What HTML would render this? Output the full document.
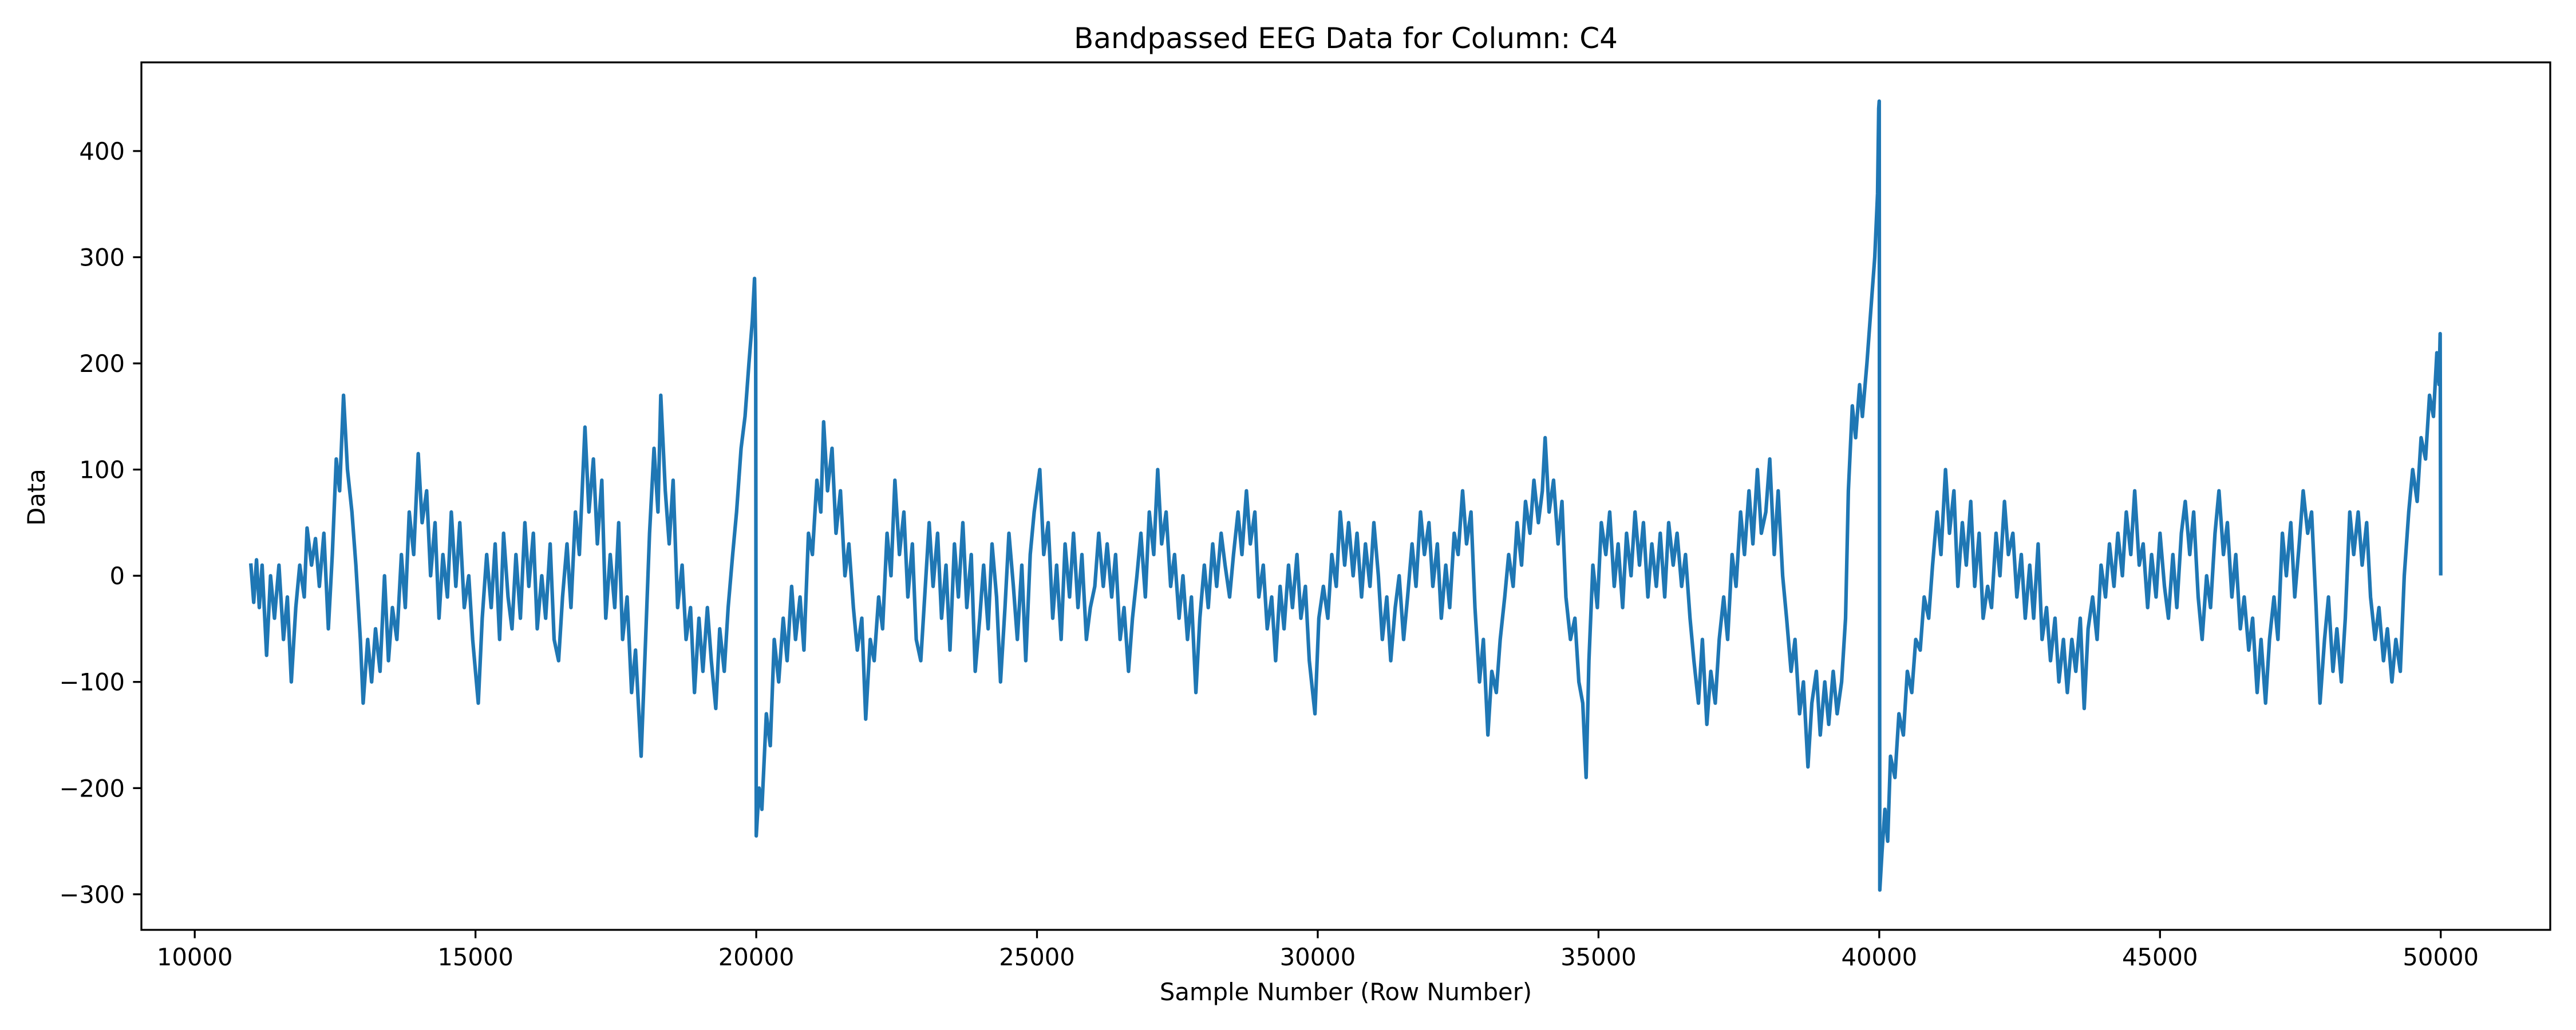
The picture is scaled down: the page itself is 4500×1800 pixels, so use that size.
<!DOCTYPE html>
<html>
<head>
<meta charset="utf-8">
<style>
html,body{margin:0;padding:0;background:#fff;}
svg{display:block;}
text{font-family:"DejaVu Sans","Liberation Sans",sans-serif;fill:#000;}
</style>
</head>
<body>
<svg id="chart" width="4500" height="1800" viewBox="0 0 4500 1800" xmlns="http://www.w3.org/2000/svg">
  <rect x="0" y="0" width="4500" height="1800" fill="#fff"/>
  <text x="2351" y="84" font-size="50" text-anchor="middle">Bandpassed EEG Data for Column: C4</text>
  <text x="2351" y="1748" font-size="41.7" text-anchor="middle">Sample Number (Row Number)</text>
  <text x="0" y="0" font-size="41.7" text-anchor="middle" transform="translate(78,869) rotate(-90)">Data</text>
  <g id="plot"></g>
  <g id="xticks"></g>
  <g id="yticks"></g>
  <rect x="247" y="109" width="4208" height="1516" fill="none" stroke="#000" stroke-width="3.3"/>
</svg>
<script>
const samples = [11000,11050,11100,11150,11200,11280,11350,11420,11500,11580,11650,11720,11800,11870,11950,12000,12080,12150,12220,12300,12380,12450,12520,12580,12650,12720,12800,12870,12950,13000,13080,13150,13220,13300,13380,13450,13520,13600,13680,13750,13820,13900,13980,14050,14130,14200,14280,14350,14420,14500,14570,14650,14720,14800,14880,14950,15050,15120,15200,15280,15350,15430,15500,15580,15650,15720,15800,15880,15950,16030,16100,16180,16250,16330,16400,16480,16550,16630,16700,16780,16850,16950,17020,17100,17170,17250,17320,17400,17480,17550,17620,17700,17780,17850,17950,18030,18100,18180,18250,18300,18380,18450,18520,18600,18680,18750,18830,18900,18980,19050,19130,19200,19280,19350,19430,19500,19580,19650,19730,19800,19870,19930,19970,19990,20000,20050,20100,20180,20250,20320,20400,20480,20550,20630,20700,20780,20850,20930,21000,21080,21150,21200,21270,21350,21420,21500,21580,21650,21730,21800,21880,21950,22030,22100,22180,22250,22330,22400,22470,22550,22630,22700,22780,22850,22930,23000,23080,23150,23230,23300,23380,23450,23530,23600,23680,23750,23830,23900,23980,24050,24130,24200,24280,24350,24430,24500,24580,24650,24730,24800,24880,24950,25050,25120,25200,25280,25350,25430,25500,25580,25650,25730,25800,25880,25950,26030,26100,26180,26250,26330,26400,26480,26550,26630,26700,26780,26850,26930,27000,27080,27150,27220,27300,27380,27450,27530,27600,27680,27750,27830,27900,27980,28050,28130,28200,28280,28350,28430,28500,28580,28650,28730,28800,28880,28950,29030,29100,29180,29250,29330,29400,29480,29550,29630,29700,29780,29850,29950,30020,30100,30180,30250,30330,30400,30480,30550,30630,30700,30780,30850,30930,31000,31080,31150,31230,31300,31380,31450,31530,31600,31680,31750,31830,31900,31980,32050,32130,32200,32280,32350,32430,32500,32580,32650,32730,32800,32880,32950,33030,33100,33180,33250,33330,33400,33480,33550,33630,33700,33780,33850,33930,34000,34050,34120,34200,34280,34350,34420,34500,34580,34650,34720,34780,34830,34900,34980,35050,35130,35200,35280,35350,35430,35500,35580,35650,35730,35800,35880,35950,36030,36100,36180,36250,36330,36400,36480,36550,36630,36700,36780,36850,36930,37000,37080,37150,37230,37300,37380,37450,37530,37600,37680,37750,37830,37900,37980,38050,38130,38200,38280,38350,38430,38500,38580,38650,38730,38800,38880,38950,39030,39100,39180,39250,39330,39400,39450,39520,39580,39650,39700,39780,39850,39920,39970,39990,40000,40010,40050,40100,40150,40200,40280,40350,40430,40500,40580,40650,40730,40800,40880,40950,41030,41100,41180,41250,41330,41400,41480,41550,41630,41700,41780,41850,41930,42000,42080,42150,42230,42300,42380,42450,42530,42600,42680,42750,42830,42900,42980,43050,43130,43200,43280,43350,43430,43500,43580,43650,43720,43800,43880,43950,44030,44100,44180,44250,44330,44400,44480,44550,44630,44700,44780,44850,44930,45000,45080,45150,45230,45300,45380,45450,45530,45600,45680,45750,45830,45900,45980,46050,46130,46200,46280,46350,46430,46500,46580,46650,46730,46800,46880,46950,47030,47100,47180,47250,47330,47400,47480,47550,47630,47700,47780,47850,47930,48000,48080,48150,48230,48300,48380,48450,48530,48600,48680,48750,48830,48900,48980,49050,49130,49200,49280,49350,49430,49500,49580,49650,49730,49800,49870,49930,49970,49990,50000];
const values = [10,-25,15,-30,10,-75,0,-40,10,-60,-20,-100,-30,10,-20,45,10,35,-10,40,-50,20,110,80,170,100,60,10,-60,-120,-60,-100,-50,-90,0,-80,-30,-60,20,-30,60,20,115,50,80,0,50,-40,20,-20,60,-10,50,-30,0,-60,-120,-40,20,-30,30,-60,40,-20,-50,20,-40,50,-10,40,-50,0,-40,30,-60,-80,-20,30,-30,60,20,140,60,110,30,90,-40,20,-30,50,-60,-20,-110,-70,-170,-60,40,120,60,170,80,30,90,-30,10,-60,-30,-110,-40,-90,-30,-80,-125,-50,-90,-30,20,60,120,150,200,240,280,220,-245,-200,-220,-130,-160,-60,-100,-40,-80,-10,-60,-20,-70,40,20,90,60,145,80,120,40,80,0,30,-30,-70,-40,-135,-60,-80,-20,-50,40,0,90,20,60,-20,30,-60,-80,-20,50,-10,40,-40,10,-70,30,-20,50,-30,20,-90,-40,10,-50,30,-20,-100,-30,40,-10,-60,10,-80,20,60,100,20,50,-40,10,-60,30,-20,40,-30,20,-60,-30,-10,40,-10,30,-20,20,-60,-30,-90,-40,0,40,-20,60,20,100,30,60,-10,20,-40,0,-60,-20,-110,-40,10,-30,30,-10,40,10,-20,20,60,20,80,30,60,-20,10,-50,-20,-80,-10,-50,10,-30,20,-40,-10,-80,-130,-40,-10,-40,20,-10,60,10,50,0,40,-20,30,-10,50,0,-60,-20,-80,-30,0,-60,-20,30,-10,60,20,50,-10,30,-40,10,-30,40,20,80,30,60,-30,-100,-60,-150,-90,-110,-60,-20,20,-10,50,10,70,40,90,50,80,130,60,90,30,70,-20,-60,-40,-100,-120,-190,-80,10,-30,50,20,60,-10,30,-30,40,0,60,10,50,-20,30,-10,40,-20,50,10,40,-10,20,-40,-80,-120,-60,-140,-90,-120,-60,-20,-60,20,-10,60,20,80,30,100,40,60,110,20,80,0,-40,-90,-60,-130,-100,-180,-120,-90,-150,-100,-140,-90,-130,-100,-40,80,160,130,180,150,200,250,300,360,440,447,-296,-260,-220,-250,-170,-190,-130,-150,-90,-110,-60,-70,-20,-40,10,60,20,100,40,80,-10,50,10,70,-10,40,-40,-10,-30,40,0,70,20,40,-20,20,-40,10,-40,30,-60,-30,-80,-40,-100,-60,-110,-60,-90,-40,-125,-50,-20,-60,10,-20,30,-10,40,0,60,20,80,10,30,-30,20,-20,40,-10,-40,20,-30,40,70,20,60,-20,-60,0,-30,40,80,20,50,-20,20,-50,-20,-70,-40,-110,-60,-120,-60,-20,-60,40,0,50,-20,30,80,40,60,-30,-120,-60,-20,-90,-50,-100,-40,60,20,60,10,50,-20,-60,-30,-80,-50,-100,-60,-90,0,60,100,70,130,110,170,150,210,180,228,2];
const xTickValues = [10000,15000,20000,25000,30000,35000,40000,45000,50000];
const xTickLabels = ["10000","15000","20000","25000","30000","35000","40000","45000","50000"];
const yTickValues = [-300,-200,-100,0,100,200,300,400];
const yTickLabels = ["\u2212300","\u2212200","\u2212100","0","100","200","300","400"];

const L=247,R=4455,T=109,B=1625;
const xMin=9050,xMax=51950,yMin=-333.5,yMax=483.5;
function xs(v){return L+(v-xMin)/(xMax-xMin)*(R-L);}
function ys(v){return B-(v-yMin)/(yMax-yMin)*(B-T);}
const NS="http://www.w3.org/2000/svg";
const plot=document.getElementById('plot');
let d='';
for(let i=0;i<samples.length;i++){d+=(i?'L':'M')+xs(samples[i]).toFixed(1)+' '+ys(values[i]).toFixed(1);}
const path=document.createElementNS(NS,'path');
path.setAttribute('d',d);
path.setAttribute('fill','none');
path.setAttribute('stroke','#1f77b4');
path.setAttribute('stroke-width','6.25');
path.setAttribute('stroke-linejoin','round');
path.setAttribute('stroke-linecap','square');


plot.appendChild(path);

const xg=document.getElementById('xticks');
xTickValues.forEach((v,i)=>{
  const x=xs(v);
  const ln=document.createElementNS(NS,'line');
  ln.setAttribute('x1',x);ln.setAttribute('x2',x);ln.setAttribute('y1',B);ln.setAttribute('y2',B+14.6);
  ln.setAttribute('stroke','#000');ln.setAttribute('stroke-width','3.3');
  
  
  xg.appendChild(ln);
  const t=document.createElementNS(NS,'text');
  t.setAttribute('x',x);t.setAttribute('y',1687);t.setAttribute('font-size','41.7');t.setAttribute('text-anchor','middle');
  t.textContent=xTickLabels[i];
  
  
  xg.appendChild(t);
});
const yg=document.getElementById('yticks');
yTickValues.forEach((v,i)=>{
  const y=ys(v);
  const ln=document.createElementNS(NS,'line');
  ln.setAttribute('x1',L-14.6);ln.setAttribute('x2',L);ln.setAttribute('y1',y);ln.setAttribute('y2',y);
  ln.setAttribute('stroke','#000');ln.setAttribute('stroke-width','3.3');
  
  
  yg.appendChild(ln);
  const t=document.createElementNS(NS,'text');
  t.setAttribute('x',L-29);t.setAttribute('y',y+15);t.setAttribute('font-size','41.7');t.setAttribute('text-anchor','end');
  t.textContent=yTickLabels[i];
  
  
  yg.appendChild(t);
});
</script>
</body>
</html>
